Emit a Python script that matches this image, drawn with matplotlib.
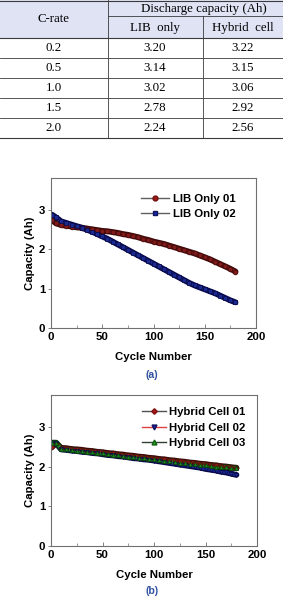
import matplotlib
matplotlib.use("Agg")
import matplotlib.pyplot as plt
from matplotlib.lines import Line2D
from matplotlib.patches import Rectangle

# ---------------- data ----------------
c_rates = ["0.2", "0.5", "1.0", "1.5", "2.0"]
lib_only_cap = [3.20, 3.14, 3.02, 2.78, 2.24]
hybrid_cap = [3.22, 3.15, 3.06, 2.92, 2.56]

cycles = [1, 5, 10, 15, 20, 25, 30, 35, 40, 45, 50, 55, 60, 65, 70, 75, 80, 85, 90,
          95, 100, 105, 110, 115, 120, 125, 130, 135, 140, 145, 150, 155, 160, 165,
          170, 175, 180]

lib_01 = [2.73, 2.65, 2.61, 2.59, 2.57, 2.55, 2.54, 2.52, 2.50, 2.48, 2.46, 2.45,
          2.43, 2.41, 2.38, 2.36, 2.33, 2.30, 2.26, 2.23, 2.19, 2.16, 2.13, 2.09,
          2.05, 2.01, 1.97, 1.93, 1.89, 1.84, 1.79, 1.74, 1.68, 1.62, 1.56, 1.50,
          1.43]
lib_02 = [2.87, 2.80, 2.70, 2.66, 2.62, 2.58, 2.54, 2.49, 2.44, 2.38, 2.32, 2.26,
          2.19, 2.12, 2.05, 1.98, 1.91, 1.84, 1.77, 1.70, 1.63, 1.56, 1.49, 1.42,
          1.35, 1.28, 1.21, 1.14, 1.08, 1.03, 0.98, 0.93, 0.88, 0.82, 0.76, 0.70,
          0.65]

hyb_01 = [2.50, 2.58, 2.47, 2.46, 2.44, 2.43, 2.42, 2.40, 2.39, 2.37, 2.36, 2.34,
          2.33, 2.31, 2.30, 2.28, 2.27, 2.25, 2.24, 2.22, 2.21, 2.19, 2.18, 2.16,
          2.15, 2.13, 2.12, 2.10, 2.09, 2.07, 2.06, 2.04, 2.03, 2.01, 2.00, 1.98,
          1.97]
hyb_02 = [2.58, 2.58, 2.43, 2.42, 2.40, 2.39, 2.37, 2.36, 2.34, 2.33, 2.31, 2.29,
          2.28, 2.26, 2.25, 2.23, 2.21, 2.20, 2.18, 2.17, 2.15, 2.13, 2.11, 2.09,
          2.07, 2.05, 2.03, 2.01, 1.99, 1.97, 1.94, 1.92, 1.90, 1.87, 1.85, 1.82,
          1.79]
hyb_03 = [2.60, 2.60, 2.44, 2.43, 2.42, 2.40, 2.39, 2.37, 2.36, 2.34, 2.33, 2.31,
          2.30, 2.28, 2.27, 2.25, 2.24, 2.22, 2.21, 2.19, 2.18, 2.16, 2.15, 2.13,
          2.12, 2.10, 2.09, 2.07, 2.06, 2.04, 2.03, 2.01, 2.00, 1.99, 1.98, 1.97,
          1.96]

# ---------------- figure ----------------
W, H = 283, 600
DPI = 100
fig = plt.figure(figsize=(W / DPI, H / DPI), dpi=DPI)
fig.patch.set_facecolor("white")

# ---------------- table ----------------
tab = fig.add_axes([0, 1 - 140 / H, 1, 140 / H])
tab.set_xlim(0, W)
tab.set_ylim(140, 0)
tab.axis("off")

col_edges = [0, 108, 203, W]
head_top, head_mid, head_bot = 0, 16, 38
row_h = 20
hdr_color = "#dfe3f4"
line_col = "#3a3a3a"
serif = "Liberation Serif"
fs_tab = 9.3

tab.add_patch(Rectangle((0, head_top), W, head_bot - head_top, color=hdr_color, lw=0))
n_rows = len(c_rates)
bottom = head_bot + n_rows * row_h
tab.plot([0, W], [head_top + 0.5, head_top + 0.5], color=line_col, lw=0.8)
tab.plot([col_edges[1], W], [head_mid, head_mid], color=line_col, lw=0.6)
for i in range(n_rows + 1):
    yy = head_bot + i * row_h
    tab.plot([0, W], [yy, yy], color=line_col, lw=0.8 if i in (0, n_rows) else 0.6)
tab.plot([col_edges[1], col_edges[1]], [head_top, bottom], color=line_col, lw=0.6)
tab.plot([col_edges[2], col_edges[2]], [head_mid, bottom], color=line_col, lw=0.6)

centers = [54, 155, 243]
tab.text(centers[0], (head_top + head_bot) / 2, "C-rate", ha="center", va="center",
         family=serif, fontsize=fs_tab)
tab.text(204, (head_top + head_mid) / 2 + 1,
         "Discharge capacity (Ah)", ha="center", va="center", family=serif, fontsize=fs_tab)
tab.text(centers[1], (head_mid + head_bot) / 2 + 1, "LIB  only", ha="center", va="center",
         family=serif, fontsize=fs_tab)
tab.text(centers[2], (head_mid + head_bot) / 2 + 1, "Hybrid  cell", ha="center", va="center",
         family=serif, fontsize=fs_tab)
for i in range(n_rows):
    yc = head_bot + (i + 0.5) * row_h
    tab.text(centers[0], yc, c_rates[i], ha="center", va="center", family=serif, fontsize=fs_tab)
    tab.text(centers[1], yc, f"{lib_only_cap[i]:.2f}", ha="center", va="center", family=serif, fontsize=fs_tab)
    tab.text(centers[2], yc, f"{hybrid_cap[i]:.2f}", ha="center", va="center", family=serif, fontsize=fs_tab)

# ---------------- plots ----------------
sans = "Liberation Sans"
fs = 8.2
spine_col = "#707070"


def style_axes(ax):
    ax.set_xlim(0, 200)
    ax.set_ylim(0, 3.8)
    ax.set_xticks([0, 50, 100, 150, 200])
    ax.set_xticks([25, 75, 125, 175], minor=True)
    ax.set_yticks([0, 1, 2, 3])
    for s in ax.spines.values():
        s.set_color(spine_col)
        s.set_linewidth(0.8)
    ax.tick_params(axis="x", which="major", direction="in", length=3, width=0.6,
                   color=spine_col, pad=3, labelsize=fs)
    ax.tick_params(axis="x", which="minor", direction="in", length=2, width=0.5,
                   color=spine_col)
    ax.tick_params(axis="y", which="major", direction="out", length=2.5, width=0.6,
                   color=spine_col, pad=1.5, labelsize=fs)
    for lab in ax.get_xticklabels() + ax.get_yticklabels():
        lab.set_fontweight("bold")
        lab.set_family(sans)
    ax.set_xlabel("Cycle Number", fontsize=fs, fontweight="bold", family=sans, labelpad=7)
    ax.set_ylabel("Capacity (Ah)", fontsize=fs, fontweight="bold", family=sans, labelpad=3)


def band(ax, x, y, color, edge, marker, ms):
    ax.plot(x, y, color=edge, lw=4.2, solid_capstyle="round", zorder=2)
    ax.plot(x, y, color=color, lw=2.0, solid_capstyle="round", zorder=2.1)
    ax.plot(x, y, ls="none", marker=marker, ms=ms, mfc=color, mec=edge, mew=0.5, zorder=2.2)


# (a)
ax1 = fig.add_axes([51 / W, 1 - 328 / H, 205 / W, 150 / H])
style_axes(ax1)
red, red_e = "#7e1a1a", "#400808"
blue, blue_e = "#1a2a90", "#08084a"
green, green_e = "#1a8a1a", "#0a3a0a"
band(ax1, cycles, lib_01, red, red_e, "o", 3.4)
band(ax1, cycles, lib_02, blue, blue_e, "s", 3.2)
hand_a = [Line2D([], [], color="#606060", lw=1.0, marker="o", ms=3.5, mfc="#a01818", mec="#701010"),
          Line2D([], [], color="#606060", lw=1.0, marker="s", ms=3.5, mfc="#1a2aa0", mec="#101060")]
ax1.legend(hand_a, ["LIB Only 01", "LIB Only 02"], loc="upper left",
           bbox_to_anchor=(0.44, 0.895), frameon=False, handlelength=2.4,
           handletextpad=0.35, labelspacing=0.5, borderpad=0, borderaxespad=0,
           prop={"family": sans, "weight": "bold", "size": fs})
fig.text(152 / W, 1 - 375 / H, "(a)", ha="center", va="center", color="#3050a0",
         fontsize=7.6, fontweight="bold", family=sans)

# (b)
ax2 = fig.add_axes([51 / W, 1 - 546 / H, 206 / W, 151 / H])
style_axes(ax2)
band(ax2, cycles, hyb_01, "#a01818", red_e, "D", 2.6)
band(ax2, cycles, hyb_02, blue, blue_e, "v", 3.0)
band(ax2, cycles, hyb_03, green, green_e, "^", 3.0)
hand_b = [Line2D([], [], color="#505050", lw=1.0, marker="D", ms=2.8, mfc="#b01818", mec="#801010"),
          Line2D([], [], color="#e04040", lw=1.0, marker="v", ms=3.5, mfc="#1a2aa0", mec="#101060"),
          Line2D([], [], color="#304030", lw=1.0, marker="^", ms=3.5, mfc="#20a020", mec="#106010")]
ax2.legend(hand_b, ["Hybrid Cell 01", "Hybrid Cell 02", "Hybrid Cell 03"], loc="upper left",
           bbox_to_anchor=(0.44, 0.92), frameon=False, handlelength=2.1,
           handletextpad=0.3, labelspacing=0.5, borderpad=0, borderaxespad=0,
           prop={"family": sans, "weight": "bold", "size": fs})
fig.text(152 / W, 1 - 591 / H, "(b)", ha="center", va="center", color="#3050a0",
         fontsize=7.6, fontweight="bold", family=sans)

fig.savefig("out.png", dpi=DPI)
